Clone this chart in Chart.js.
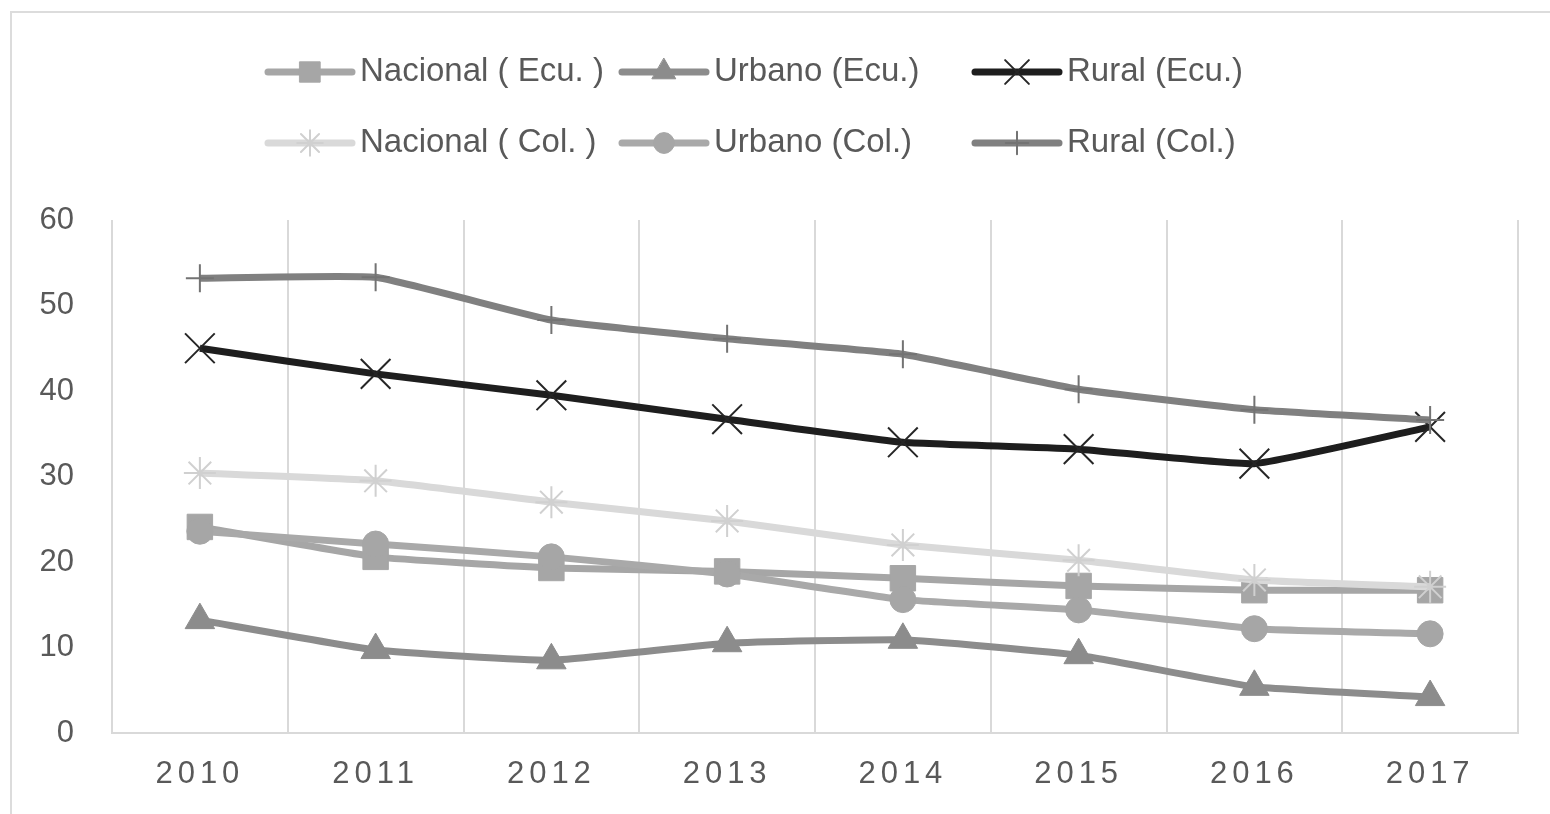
<!DOCTYPE html>
<html>
<head>
<meta charset="utf-8">
<script src="https://cdn.jsdelivr.net/npm/chart.js@4/dist/chart.umd.min.js"></script>
<style>
  html, body { margin: 0; padding: 0; background: #fff; overflow: hidden; }
  #wrap { width: 1550px; height: 814px; }
</style>
</head>
<body>
<div id="wrap"><canvas id="grafico" width="1550" height="814"></canvas></div>
<script>
// Datos
const anios = ["2010", "2011", "2012", "2013", "2014", "2015", "2016", "2017"];
const nacionalEcu = [24.1, 20.6, 19.3, 18.9, 18.1, 17.2, 16.7, 16.7];
const urbanoEcu = [13.2, 9.7, 8.5, 10.5, 10.9, 9.1, 5.4, 4.2];
const ruralEcu = [45.0, 42.0, 39.5, 36.7, 34.0, 33.2, 31.5, 35.8];
const nacionalCol = [30.4, 29.5, 27.0, 24.8, 22.0, 20.2, 17.9, 17.1];
const urbanoCol = [23.6, 22.1, 20.6, 18.6, 15.6, 14.4, 12.2, 11.6];
const ruralCol = [53.2, 53.3, 48.3, 46.1, 44.3, 40.2, 37.8, 36.6];
const etiquetas = ["Nacional ( Ecu. )", "Urbano (Ecu.)", "Rural (Ecu.)",
                   "Nacional ( Col. )", "Urbano (Col.)", "Rural (Col.)"];

const fuente = "'Liberation Sans', Arial, sans-serif";
const gris = "#595959";

// estilo de cada serie (linea + marcador)
const estilos = [
  { color: "#a6a6a6", marker: "#a6a6a6", punto: "rect", radio: 18, borde: 1 },
  { color: "#8c8c8c", marker: "#8c8c8c", punto: "triangle", radio: 17, borde: 1 },
  { color: "#1e1e1e", marker: "#262626", punto: "crossRot", radio: 21, borde: 2 },
  { color: "#d9d9d9", marker: "#d0d0d0", punto: "star", radio: 16, borde: 2 },
  { color: "#a9a9a9", marker: "#a6a6a6", punto: "circle", radio: 13, borde: 1 },
  { color: "#808080", marker: "#737373", punto: "cross", radio: 14, borde: 2 }
];
const series = [nacionalEcu, urbanoEcu, ruralEcu, nacionalCol, urbanoCol, ruralCol];

const datasets = series.map((valores, i) => ({
  label: etiquetas[i],
  data: valores,
  borderColor: estilos[i].color,
  borderWidth: 7,
  tension: 0.12,
  pointStyle: estilos[i].punto,
  pointRadius: estilos[i].radio,
  pointBackgroundColor: estilos[i].marker,
  pointBorderColor: estilos[i].marker,
  pointBorderWidth: estilos[i].borde,
  order: 6 - i
}));

// fondo y marco exterior
const fondo = {
  id: "fondo",
  beforeDraw(chart) {
    const ctx = chart.ctx;
    ctx.save();
    ctx.fillStyle = "#fff";
    ctx.fillRect(0, 0, chart.width, chart.height);
    ctx.strokeStyle = "#dcdcdc";
    ctx.lineWidth = 2;
    ctx.strokeRect(11, 12, chart.width + 20, chart.height + 20);
    ctx.restore();
  }
};

// espaciado de letras en los años del eje x
const anioEspaciado = {
  id: "anioEspaciado",
  beforeDraw(chart) {
    const x = chart.scales.x;
    if (x._espaciado) return;
    const original = x.drawLabels.bind(x);
    x.drawLabels = (area) => {
      chart.ctx.save();
      chart.ctx.letterSpacing = "5px";
      original(area);
      chart.ctx.restore();
    };
    x._espaciado = true;
  }
};

// leyenda estilo Excel: linea con marcador
const leyenda = {
  id: "leyenda",
  afterDraw(chart) {
    const ctx = chart.ctx;
    const columnas = [268, 622, 975];
    const filas = [72, 143];
    ctx.save();
    estilos.forEach((e, i) => {
      const x0 = columnas[i % 3];
      const y = filas[Math.floor(i / 3)];
      ctx.strokeStyle = e.color;
      ctx.lineWidth = 7;
      ctx.lineCap = "round";
      ctx.beginPath();
      ctx.moveTo(x0, y);
      ctx.lineTo(x0 + 84, y);
      ctx.stroke();
      ctx.fillStyle = e.marker;
      ctx.strokeStyle = e.marker;
      ctx.lineWidth = e.borde;
      Chart.helpers.drawPoint(ctx, {
        pointStyle: e.punto, radius: e.radio * 0.8, borderWidth: e.borde, rotation: 0
      }, x0 + 42, y);
      ctx.fillStyle = gris;
      ctx.font = "33px " + fuente;
      ctx.textBaseline = "middle";
      ctx.textAlign = "left";
      ctx.fillText(etiquetas[i], x0 + 92, y);
    });
    ctx.restore();
  }
};

new Chart(document.getElementById("grafico"), {
  type: "line",
  data: { labels: anios, datasets },
  options: {
    responsive: false,
    animation: false,
    layout: { padding: { top: 220, right: 32, left: 0, bottom: 0 } },
    plugins: {
      legend: { display: false },
      tooltip: { enabled: false }
    },
    scales: {
      x: {
        offset: true,
        grid: { display: true, offset: true, color: "#d9d9d9", lineWidth: 2, drawTicks: false },
        border: { display: true, color: "#d9d9d9", width: 2 },
        ticks: { color: gris, padding: 23, font: { family: fuente, size: 31 } },
        afterFit: (s) => { s.height = 81; }
      },
      y: {
        min: 0,
        max: 60,
        grid: { display: false, drawTicks: false },
        border: { display: false },
        ticks: { stepSize: 10, color: gris, padding: 38, font: { family: fuente, size: 31 } },
        afterFit: (s) => { s.width = 112; }
      }
    }
  },
  plugins: [fondo, anioEspaciado, leyenda]
});
</script>
</body>
</html>
